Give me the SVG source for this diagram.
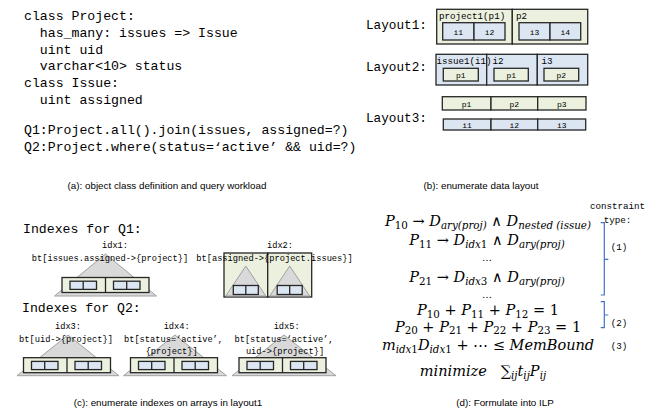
<svg xmlns="http://www.w3.org/2000/svg" width="665" height="411" viewBox="0 0 665 411">
<style>
.code{font-family:"Liberation Mono","DejaVu Sans Mono",monospace;font-size:13.2px;fill:#000}
.lay{font-family:"Liberation Mono","DejaVu Sans Mono",monospace;font-size:12.7px;fill:#000}
.sm{font-family:"Liberation Mono","DejaVu Sans Mono",monospace;font-size:9.2px;fill:#000}
.xs{font-family:"Liberation Mono","DejaVu Sans Mono",monospace;font-size:8px;fill:#000;text-anchor:middle}
.idx{font-family:"Liberation Mono","DejaVu Sans Mono",monospace;font-size:8.7px;fill:#000;text-anchor:middle}
.cap{font-family:"Liberation Sans",Arial,sans-serif;font-size:9.8px;fill:#000;text-anchor:middle}
.m{font-family:"DejaVu Serif","Liberation Serif",serif;font-style:italic;font-size:14.5px;fill:#000;text-anchor:middle}
.s{font-size:10.3px}
.up{font-style:normal}
.g{fill:#ebf1de;stroke:#262626;stroke-width:1.3}
.b{fill:#dce6f2;stroke:#262626;stroke-width:1.3}
.tri{fill:#d9d9d9;stroke:#a0a0a0;stroke-width:1}
.dv{stroke:#262626;stroke-width:1.3}
.br{fill:none;stroke:#4472c4;stroke-width:1.2}
</style>

<g id="panel-a">
<text class="code" x="24" y="20">class Project:</text>
<text class="code" x="24" y="36.8" xml:space="preserve">  has_many: issues =&gt; Issue</text>
<text class="code" x="24" y="53.6" xml:space="preserve">  uint uid</text>
<text class="code" x="24" y="70.4" xml:space="preserve">  varchar&lt;10&gt; status</text>
<text class="code" x="24" y="87.2">class Issue:</text>
<text class="code" x="24" y="104" xml:space="preserve">  uint assigned</text>
<text class="code" x="24" y="134">Q1:Project.all().join(issues, assigned=?)</text>
<text class="code" x="24" y="150.5">Q2:Project.where(status=‘active’ &amp;&amp; uid=?)</text>
<text class="cap" x="167" y="189">(a): object class definition and query workload</text>
</g>

<g id="panel-b">
<text class="lay" x="366" y="29">Layout1:</text>
<text class="lay" x="366" y="71">Layout2:</text>
<text class="lay" x="366" y="122">Layout3:</text>
<g id="layout1">
<rect class="g" x="436.7" y="9.3" width="75.6" height="34.7"/>
<rect class="g" x="512.3" y="9.3" width="75.4" height="34.7"/>
<text class="sm" x="439" y="19">project1(p1)</text>
<text class="sm" x="516" y="19">p2</text>
<rect class="b" x="442.7" y="22.7" width="31.3" height="17.3"/>
<rect class="b" x="474" y="22.7" width="31" height="17.3"/>
<rect class="b" x="519" y="22.7" width="31" height="17.3"/>
<rect class="b" x="550" y="22.7" width="30.7" height="17.3"/>
<text class="xs" x="458.3" y="35">i1</text>
<text class="xs" x="489.5" y="35">i2</text>
<text class="xs" x="534.5" y="35">i3</text>
<text class="xs" x="565.3" y="35">i4</text>
</g>
<g id="layout2">
<rect class="b" x="436" y="54.3" width="50.7" height="30.7"/>
<rect class="b" x="486.7" y="54.3" width="50.6" height="30.7"/>
<rect class="b" x="537.3" y="54.3" width="50.4" height="30.7"/>
<text class="sm" x="436.5" y="63.5">issue1(i1)</text>
<text class="sm" x="492.5" y="63.5">i2</text>
<text class="sm" x="541.5" y="63.5">i3</text>
<rect class="g" x="443.3" y="68.3" width="35" height="12.7"/>
<rect class="g" x="494" y="68.3" width="34.3" height="12.7"/>
<rect class="g" x="544" y="68.3" width="34.7" height="12.7"/>
<text class="xs" x="460.8" y="77.5">p1</text>
<text class="xs" x="511.2" y="77.5">p1</text>
<text class="xs" x="561.3" y="77.5">p2</text>
</g>
<g id="layout3">
<rect class="g" x="442.3" y="96.7" width="48.7" height="13.3"/>
<rect class="g" x="491" y="96.7" width="46.7" height="13.3"/>
<rect class="g" x="537.7" y="96.7" width="48.3" height="13.3"/>
<text class="xs" x="466.6" y="106.5">p1</text>
<text class="xs" x="514.3" y="106.5">p2</text>
<text class="xs" x="561.8" y="106.5">p3</text>
<rect class="b" x="443.3" y="119" width="47.7" height="11"/>
<rect class="b" x="491" y="119" width="46.7" height="11"/>
<rect class="b" x="537.7" y="119" width="48" height="11"/>
<text class="xs" x="467.1" y="127.7">i1</text>
<text class="xs" x="514.3" y="127.7">i2</text>
<text class="xs" x="561.7" y="127.7">i3</text>
</g>
<text class="cap" x="481" y="189">(b): enumerate data layout</text>
</g>

<g id="panel-c">
<text class="code" x="23" y="233">Indexes for Q1:</text>
<text class="code" x="22" y="312">Indexes for Q2:</text>
<g id="idx1">
<polygon class="tri" points="105.5,254 54.5,296 156.5,296"/>
<rect class="g" x="62" y="277.5" width="87" height="15"/>
<line class="dv" x1="105.5" y1="277.5" x2="105.5" y2="292.5"/>
<rect class="b" x="70" y="281.2" width="26.5" height="8.2"/>
<line class="dv" x1="83.2" y1="281.2" x2="83.2" y2="289.4"/>
<rect class="b" x="113.5" y="281.2" width="26.5" height="8.2"/>
<line class="dv" x1="126.7" y1="281.2" x2="126.7" y2="289.4"/>
<text class="idx" x="115" y="248">idx1:</text>
<text class="idx" x="110" y="261">bt[issues.assigned-&gt;{project}]</text>
</g>
<g id="idx2">
<rect class="g" x="224" y="253" width="43.7" height="44"/>
<rect class="g" x="267.7" y="253" width="44" height="44"/>
<polygon class="tri" points="245.8,266 225.8,296 265.8,296"/>
<polygon class="tri" points="289.7,266 269.7,296 309.7,296"/>
<rect class="b" x="233.3" y="285.5" width="25" height="9"/>
<line class="dv" x1="245.8" y1="285.5" x2="245.8" y2="294.5"/>
<rect class="b" x="277.2" y="285.5" width="25" height="9"/>
<line class="dv" x1="289.7" y1="285.5" x2="289.7" y2="294.5"/>
<text class="idx" x="280" y="248">idx2:</text>
<text class="idx" x="274.5" y="261">bt[assigned-&gt;{project.issues}]</text>
</g>
<g id="idx3">
<polygon class="tri" points="68,335 17,375.7 119,375.7"/>
<rect class="g" x="23.5" y="357.7" width="87" height="15"/>
<line class="dv" x1="67" y1="357.7" x2="67" y2="372.7"/>
<rect class="b" x="31.5" y="361.4" width="26.5" height="8.2"/>
<line class="dv" x1="44.7" y1="361.4" x2="44.7" y2="369.6"/>
<rect class="b" x="75" y="361.4" width="26.5" height="8.2"/>
<line class="dv" x1="88.2" y1="361.4" x2="88.2" y2="369.6"/>
<text class="idx" x="68" y="329">idx3:</text>
<text class="idx" x="66" y="342">bt[uid-&gt;{project}]</text>
</g>
<g id="idx4">
<polygon class="tri" points="175,335 123.5,375.7 226.5,375.7"/>
<rect class="g" x="130.5" y="357.7" width="87" height="15"/>
<line class="dv" x1="174" y1="357.7" x2="174" y2="372.7"/>
<rect class="b" x="138.5" y="361.4" width="26.5" height="8.2"/>
<line class="dv" x1="151.7" y1="361.4" x2="151.7" y2="369.6"/>
<rect class="b" x="182" y="361.4" width="26.5" height="8.2"/>
<line class="dv" x1="195.2" y1="361.4" x2="195.2" y2="369.6"/>
<text class="idx" x="176.7" y="329">idx4:</text>
<text class="idx" x="173.5" y="342">bt[status=‘active’,</text>
<text class="idx" x="171.7" y="354">{project}]</text>
</g>
<g id="idx5">
<polygon class="tri" points="284,335 232,375.7 336,375.7"/>
<rect class="g" x="239" y="357.7" width="87" height="15"/>
<line class="dv" x1="282.5" y1="357.7" x2="282.5" y2="372.7"/>
<rect class="b" x="247" y="361.4" width="26.5" height="8.2"/>
<line class="dv" x1="260.2" y1="361.4" x2="260.2" y2="369.6"/>
<rect class="b" x="290.5" y="361.4" width="26.5" height="8.2"/>
<line class="dv" x1="303.7" y1="361.4" x2="303.7" y2="369.6"/>
<text class="idx" x="286.7" y="329">idx5:</text>
<text class="idx" x="284" y="342">bt[status=‘active’,</text>
<text class="idx" x="285" y="354">uid-&gt;{project}]</text>
</g>
<text class="cap" x="168" y="406">(c): enumerate indexes on arrays in layout1</text>
</g>

<g id="panel-d">
<text class="m" x="488" y="226">P<tspan class="s up" dy="2.5">10</tspan><tspan dy="-2.5" class="up" xml:space="preserve"> → </tspan>D<tspan class="s" dy="2.5">ary(proj)</tspan><tspan dy="-2.5" class="up" xml:space="preserve"> ∧ </tspan>D<tspan class="s" dy="2.5">nested (issue)</tspan></text>
<text class="m" x="487" y="245">P<tspan class="s up" dy="2.5">11</tspan><tspan dy="-2.5" class="up" xml:space="preserve"> → </tspan>D<tspan class="s" dy="2.5">idx<tspan class="up">1</tspan></tspan><tspan dy="-2.5" class="up" xml:space="preserve"> ∧ </tspan>D<tspan class="s" dy="2.5">ary(proj)</tspan></text>
<text class="m up" x="487" y="261" style="font-size:10px">…</text>
<text class="m" x="487" y="282">P<tspan class="s up" dy="2.5">21</tspan><tspan dy="-2.5" class="up" xml:space="preserve"> → </tspan>D<tspan class="s" dy="2.5">idx<tspan class="up">3</tspan></tspan><tspan dy="-2.5" class="up" xml:space="preserve"> ∧ </tspan>D<tspan class="s" dy="2.5">ary(proj)</tspan></text>
<text class="m up" x="487" y="298" style="font-size:10px">…</text>
<text class="m" x="488" y="315">P<tspan class="s up" dy="2.5">10</tspan><tspan dy="-2.5" class="up" xml:space="preserve"> + </tspan>P<tspan class="s up" dy="2.5">11</tspan><tspan dy="-2.5" class="up" xml:space="preserve"> + </tspan>P<tspan class="s up" dy="2.5">12</tspan><tspan dy="-2.5" class="up" xml:space="preserve"> = 1</tspan></text>
<text class="m" x="488" y="331.5">P<tspan class="s up" dy="2.5">20</tspan><tspan dy="-2.5" class="up" xml:space="preserve"> + </tspan>P<tspan class="s up" dy="2.5">21</tspan><tspan dy="-2.5" class="up" xml:space="preserve"> + </tspan>P<tspan class="s up" dy="2.5">22</tspan><tspan dy="-2.5" class="up" xml:space="preserve"> + </tspan>P<tspan class="s up" dy="2.5">23</tspan><tspan dy="-2.5" class="up" xml:space="preserve"> = 1</tspan></text>
<text class="m" x="488" y="350">m<tspan class="s" dy="2.5">idx<tspan class="up">1</tspan></tspan><tspan dy="-2.5">D</tspan><tspan class="s" dy="2.5">idx<tspan class="up">1</tspan></tspan><tspan dy="-2.5" class="up" xml:space="preserve"> + ⋯ ≤ </tspan>MemBound</text>
<text class="m" x="483" y="376">minimize<tspan class="up" xml:space="preserve">   ∑</tspan><tspan class="s" dy="2.5">ij</tspan><tspan dy="-2.5">t</tspan><tspan class="s" dy="2.5">ij</tspan><tspan dy="-2.5">P</tspan><tspan class="s" dy="2.5">ij</tspan></text>
<text class="sm" x="617.5" y="209" text-anchor="middle">constraint</text>
<text class="sm" x="617.5" y="223" text-anchor="middle">type:</text>
<text class="sm" x="619" y="250" text-anchor="middle">(1)</text>
<text class="sm" x="619" y="326" text-anchor="middle">(2)</text>
<text class="sm" x="619" y="349" text-anchor="middle">(3)</text>
<g id="brackets">
<path class="br" d="M600.7,222.7 H604.3 V295 H600.7 M604.3,259.3 H608.3"/>
<path class="br" d="M600.7,301.7 H604.3 V327.7 H600.7 M604.3,315 H608.3"/>
</g>
<text class="cap" x="505" y="406">(d): Formulate into ILP</text>
</g>
</svg>
